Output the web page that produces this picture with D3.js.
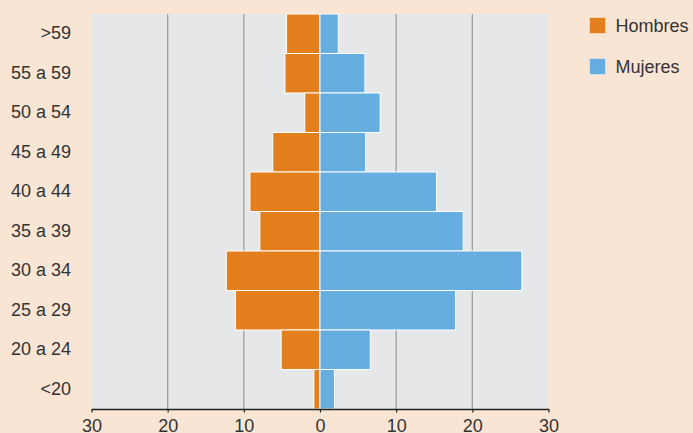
<!DOCTYPE html>
<html><head><meta charset="utf-8">
<script src="https://cdn.jsdelivr.net/npm/d3@7"></script>
<style>
body{margin:0;background:#f9e5d4;}
svg{display:block;font-family:"Liberation Sans",Arial,sans-serif;}
</style></head><body>
<svg id="c" width="693" height="433"></svg>
<script>
const categories = [">59","55 a 59","50 a 54","45 a 49","40 a 44","35 a 39","30 a 34","25 a 29","20 a 24","<20"];
const hombres = [4.4, 4.6, 2.0, 6.2, 9.2, 7.9, 12.3, 11.1, 5.1, 0.8];
const mujeres = [2.4, 5.9, 7.9, 6.0, 15.3, 18.8, 26.5, 17.8, 6.6, 1.9];
const tickValues = [-30,-20,-10,0,10,20,30];
const seriesNames = ["Hombres","Mujeres"];
const colors = ["#e37f1c","#66ade0"];

const svg = d3.select("#c");
const m = {l:91.5, r:548.5, t:14, b:409};
const x = d3.scaleLinear().domain([-30,30]).range([m.l,m.r]);
const y = d3.scaleBand().domain(categories).range([m.t,m.b]).padding(0);

svg.append("rect").attr("width",693).attr("height",433).attr("fill","#f9e5d4");
svg.append("rect").attr("x",m.l).attr("y",m.t).attr("width",m.r-m.l).attr("height",m.b-m.t).attr("fill","#e6e7e8");

svg.append("g").selectAll("line").data([-20,-10,10,20]).join("line")
  .attr("x1",d=>x(d)).attr("x2",d=>x(d)).attr("y1",m.t).attr("y2",m.b)
  .attr("stroke","#9a9a9a").attr("stroke-width",1.2);

svg.append("g").selectAll("rect").data(categories).join("rect")
  .attr("x",(d,i)=>x(-hombres[i])).attr("y",d=>y(d))
  .attr("width",(d,i)=>x(0)-x(-hombres[i])).attr("height",y.bandwidth())
  .attr("fill",colors[0]).attr("stroke","#fff").attr("stroke-width",1);

svg.append("g").selectAll("rect").data(categories).join("rect")
  .attr("x",x(0)).attr("y",d=>y(d))
  .attr("width",(d,i)=>x(mujeres[i])-x(0)).attr("height",y.bandwidth())
  .attr("fill",colors[1]).attr("stroke","#fff").attr("stroke-width",1);

const xAxis = svg.append("g").attr("transform",`translate(0,${m.b})`)
  .call(d3.axisBottom(x).tickValues(tickValues).tickFormat(d=>Math.abs(d)).tickSize(3.5).tickSizeOuter(0));
xAxis.select(".domain").attr("stroke","#222").attr("stroke-width",1.5);
xAxis.selectAll(".tick line").attr("stroke","#222").attr("stroke-width",1.2);
xAxis.selectAll("text").attr("font-size",18).attr("fill","#333").attr("dy","0.71em").attr("y",10)
  .style("font-family","'Liberation Sans',Arial,sans-serif");

svg.append("g").selectAll("text").data(categories).join("text")
  .attr("x",71).attr("y",d=>y(d)+y.bandwidth()/2 - 0.8).attr("dy","0.35em")
  .attr("text-anchor","end").attr("font-size",18).attr("fill","#333").text(d=>d);

const lg = svg.append("g").selectAll("g").data(seriesNames).join("g")
  .attr("transform",(d,i)=>`translate(589.5,${17.5+i*41})`);
lg.append("rect").attr("width",16).attr("height",16).attr("fill",(d,i)=>colors[i])
  .attr("stroke","#fff").attr("stroke-opacity",0.5).attr("stroke-width",0.8);
lg.append("text").attr("x",26).attr("y",8).attr("dy","0.35em").attr("font-size",18).attr("fill","#333").text(d=>d);
</script></body></html>
